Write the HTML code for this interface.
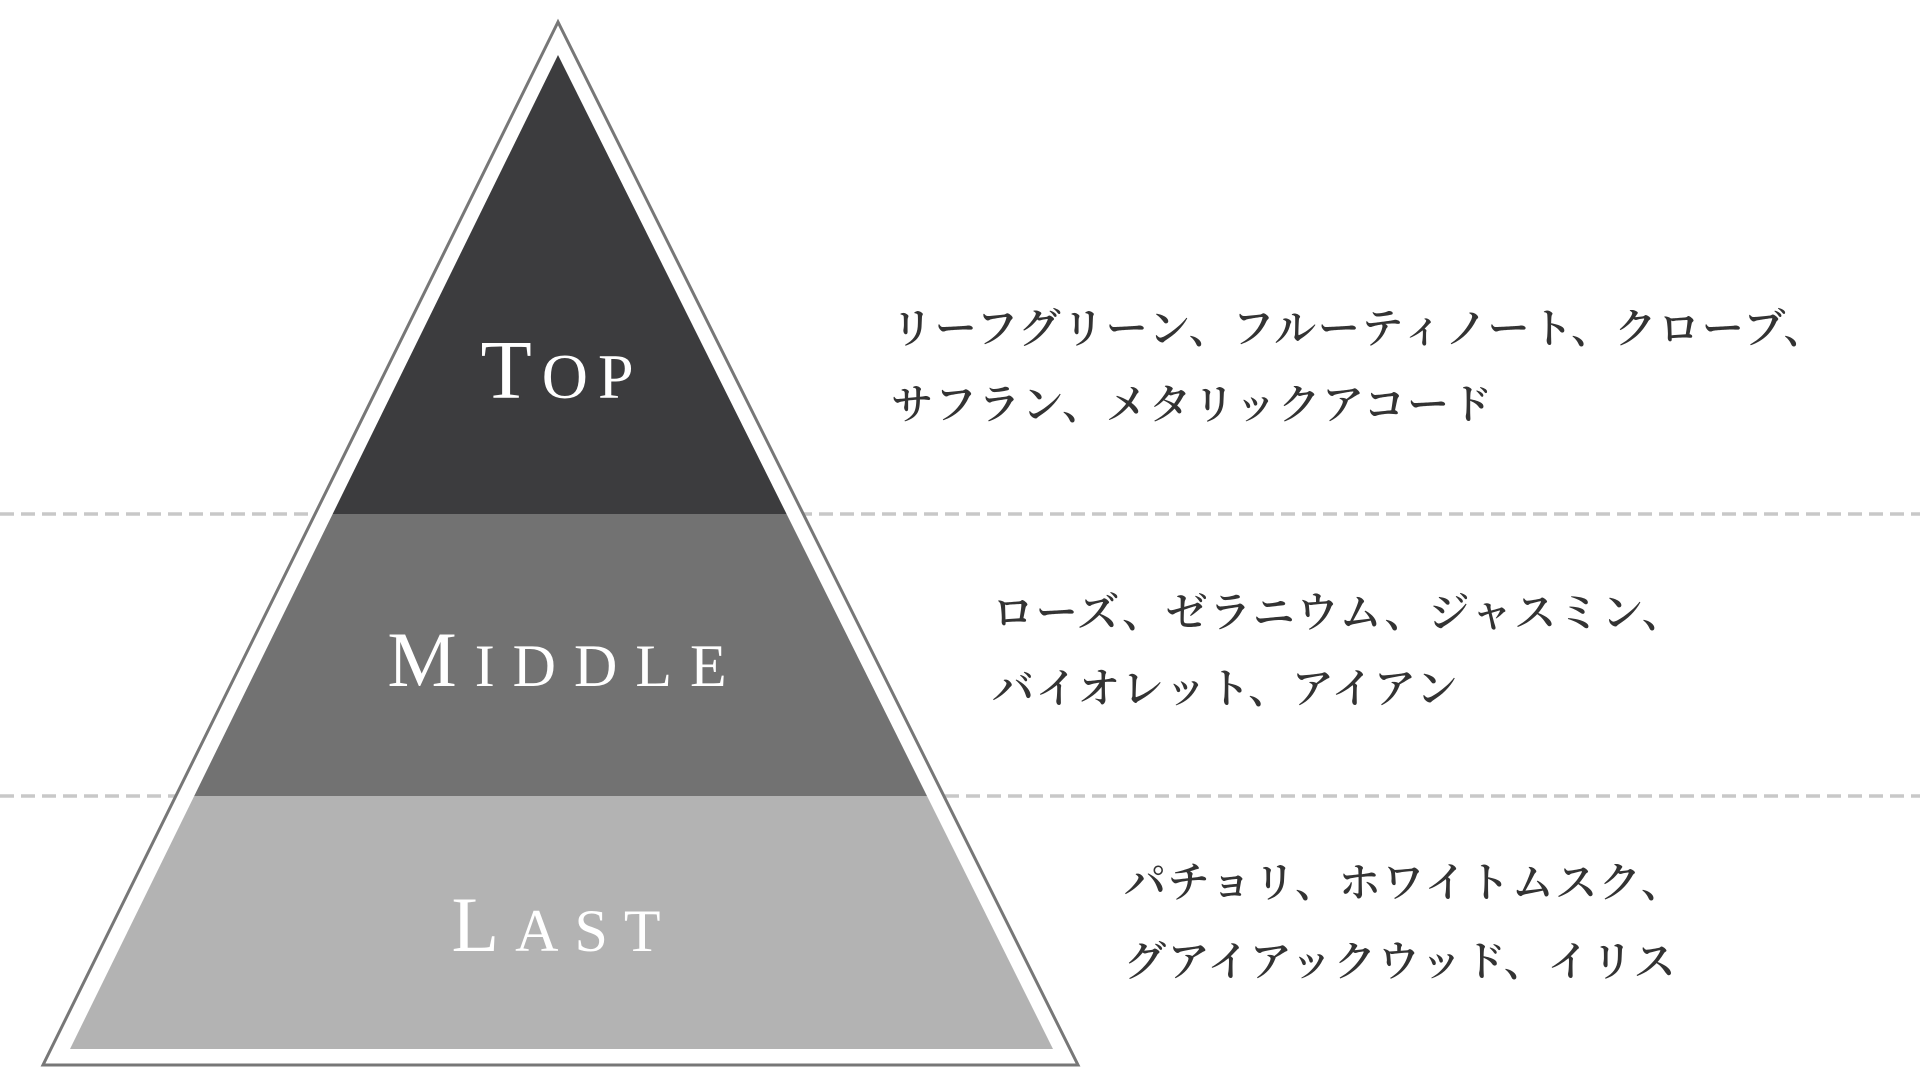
<!DOCTYPE html>
<html><head><meta charset="utf-8"><style>
html,body{margin:0;padding:0;background:#fff;}
svg{display:block}
.jp{font-family:"Liberation Serif","Noto Serif CJK SC","Noto Sans CJK JP",serif;font-size:42px;fill:#333;font-weight:600;letter-spacing:1.6px}
.en{font-family:"Liberation Serif",serif;fill:#fff;}
</style></head><body>
<svg width="1920" height="1080" viewBox="0 0 1920 1080" xmlns="http://www.w3.org/2000/svg">
<line x1="0" y1="514" x2="1920" y2="514" stroke="#c8c8c8" stroke-width="3.5" stroke-dasharray="14,7"/>
<line x1="0" y1="796" x2="1920" y2="796" stroke="#c8c8c8" stroke-width="3.5" stroke-dasharray="14,7"/>
<polygon points="558,22 43,1065 1078,1065" fill="#fff" stroke="#777" stroke-width="3"/>
<clipPath id="c"><polygon points="558,55 70,1049 1053,1049"/></clipPath>
<g clip-path="url(#c)">
<rect x="0" y="0" width="1200" height="514" fill="#3c3c3e"/>
<rect x="0" y="514" width="1200" height="282" fill="#727272"/>
<rect x="0" y="796" width="1200" height="300" fill="#b3b3b3"/>
</g>
<text class="en" x="562" y="398" text-anchor="middle" letter-spacing="10"><tspan font-size="84">T</tspan><tspan font-size="64">OP</tspan></text>
<text class="en" x="566" y="686" text-anchor="middle" letter-spacing="18"><tspan font-size="78">M</tspan><tspan font-size="60">IDDLE</tspan></text>
<text class="en" x="564" y="951" text-anchor="middle" letter-spacing="16"><tspan font-size="78">L</tspan><tspan font-size="60">AST</tspan></text>
<text class="jp" x="891" y="343">リーフグリーン、フルーティノート、クローブ、</text>
<text class="jp" x="891" y="419">サフラン、メタリックアコード</text>
<text class="jp" x="992" y="627">ローズ、ゼラニウム、ジャスミン、</text>
<text class="jp" x="992" y="703">バイオレット、アイアン</text>
<text class="jp" x="1124" y="897">パチョリ、ホワイトムスク、</text>
<text class="jp" x="1124" y="976">グアイアックウッド、イリス</text>
</svg>
</body></html>
